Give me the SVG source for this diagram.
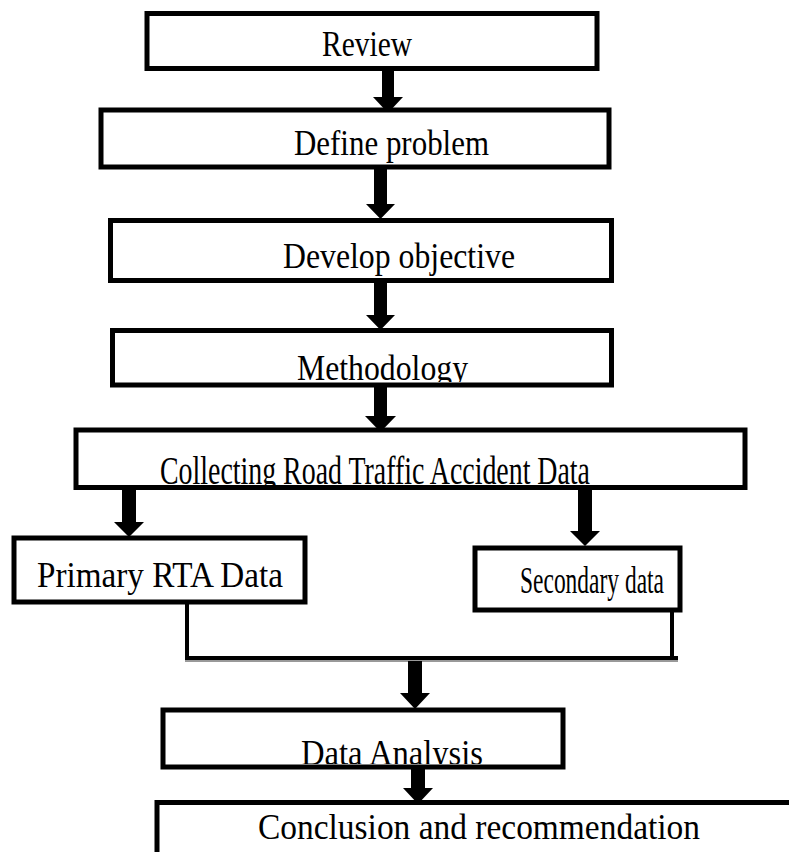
<svg xmlns="http://www.w3.org/2000/svg" width="789" height="852" viewBox="0 0 789 852">
<defs>
<style>
.box{fill:#fff;stroke:#000;stroke-width:5}
.t{font-family:"Liberation Serif","Times New Roman",serif;font-size:35px;fill:#000}
.arr{fill:#000;stroke:none}
.ln{fill:none;stroke:#000;stroke-width:4}
</style>
<clipPath id="cMeth"><rect x="115" y="333" width="495" height="49"/></clipPath>
<clipPath id="cColl"><rect x="79" y="433" width="663" height="52"/></clipPath>
<clipPath id="cDA"><rect x="163" y="713" width="397" height="51"/></clipPath>
</defs>
<rect width="789" height="852" fill="#fff"/>
<g id="connectors">
<polygon class="arr" points="382,70 394,70 394,97 403,97 388,113 373,97 382,97"/>
<polygon class="arr" points="374,169 387,169 387,204 395,204 380.5,219 366,204 374,204"/>
<polygon class="arr" points="374,282 387,282 387,315 395,315 380.5,330 366,315 374,315"/>
<polygon class="arr" points="374,387 387,387 387,416 396,416 380.5,432 365,416 374,416"/>
<polygon class="arr" points="122,489 136,489 136,522 144,522 129,537 114,522 122,522"/>
<polygon class="arr" points="578,489 592,489 592,531 600,531 585,546 570,531 578,531"/>
<polyline class="ln" points="187,604 187,658"/>
<polyline class="ln" points="672,612 672,658"/>
<line x1="185" y1="661" x2="678" y2="661" stroke="#999" stroke-width="2"/>
<line x1="185" y1="658" x2="678" y2="658" stroke="#000" stroke-width="4"/>
<polygon class="arr" points="408,661 422,661 422,693 430,693 415,709 400,693 408,693"/>
<polygon class="arr" points="411,756 425,756 425,788 433,788 418,804 403,788 411,788"/>
</g>
<g id="review">
<rect class="box" x="147" y="13.5" width="450" height="55"/>
<text class="t" x="322" y="56" textLength="90" lengthAdjust="spacingAndGlyphs">Review</text>
</g>
<g id="define">
<rect class="box" x="101" y="110" width="508" height="57"/>
<text class="t" x="294" y="155" textLength="195" lengthAdjust="spacingAndGlyphs">Define problem</text>
</g>
<g id="develop">
<rect class="box" x="110.5" y="220.5" width="501" height="60"/>
<text class="t" x="283" y="268" textLength="232" lengthAdjust="spacingAndGlyphs">Develop objective</text>
</g>
<g id="methodology">
<rect class="box" x="112.5" y="330.5" width="499" height="54.5"/>
<text class="t" x="297" y="380" textLength="171" lengthAdjust="spacingAndGlyphs" clip-path="url(#cMeth)">Methodology</text>
</g>
<g id="collecting">
<rect class="box" x="76" y="430" width="669" height="57.5"/>
<text class="t" x="160" y="484" textLength="430" lengthAdjust="spacingAndGlyphs" clip-path="url(#cColl)" style="font-size:39px">Collecting Road Traffic Accident Data</text>
</g>
<g id="primary">
<rect class="box" x="14" y="538" width="291" height="64"/>
<text class="t" x="37" y="587" textLength="246" lengthAdjust="spacingAndGlyphs">Primary RTA Data</text>
</g>
<g id="secondary">
<rect class="box" x="475" y="548" width="205" height="62"/>
<text class="t" x="520" y="593" textLength="144" lengthAdjust="spacingAndGlyphs" style="font-size:37px">Secondary data</text>
</g>
<g id="analysis">
<rect class="box" x="163" y="710" width="400" height="57"/>
<text class="t" x="301" y="765" textLength="182" lengthAdjust="spacingAndGlyphs" clip-path="url(#cDA)">Data Analysis</text>
</g>
<g id="conclusion">
<path d="M157,852 V802.5 H800" fill="none" stroke="#000" stroke-width="5"/>
<text class="t" x="258" y="839" textLength="442" lengthAdjust="spacingAndGlyphs">Conclusion and recommendation</text>
</g>
</svg>
